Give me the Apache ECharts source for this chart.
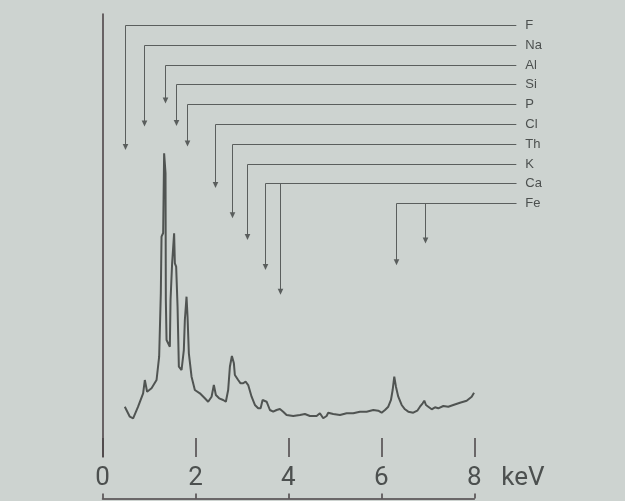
<!DOCTYPE html>
<html>
<head>
<meta charset="utf-8">
<script src="https://cdn.jsdelivr.net/npm/echarts@6/dist/echarts.min.js"></script>
<style>
  html, body { margin: 0; padding: 0; background: #cdd3d0; }
  #main { width: 625px; height: 501px; }
</style>
</head>
<body>
<div id="main"></div>
<script>
// EDX spectrum, x in keV, y relative intensity
var energy = [
  0.480, 0.588, 0.659, 0.766, 0.874, 0.911, 0.960, 1.055, 1.163, 1.219,
  1.255, 1.270, 1.305, 1.326, 1.356, 1.363, 1.378, 1.449, 1.464, 1.498,
  1.541, 1.557, 1.585, 1.615, 1.643, 1.701, 1.750, 1.772, 1.808, 1.830,
  1.858, 1.916, 1.987, 2.095, 2.202, 2.273, 2.347, 2.396, 2.439, 2.510,
  2.596, 2.654, 2.704, 2.741, 2.784, 2.827, 2.848, 2.919, 2.971, 3.027,
  3.079, 3.135, 3.208, 3.279, 3.350, 3.402, 3.445, 3.531, 3.602, 3.673,
  3.746, 3.817, 3.888, 3.961, 4.103, 4.248, 4.355, 4.463, 4.607, 4.678,
  4.749, 4.822, 4.857, 4.965, 5.109, 5.253, 5.395, 5.539, 5.684, 5.826,
  5.933, 6.006, 6.078, 6.149, 6.207, 6.243, 6.278, 6.314, 6.364, 6.437,
  6.508, 6.579, 6.687, 6.773, 6.831, 6.889, 6.924, 6.960, 7.010, 7.083,
  7.154, 7.225, 7.333, 7.440, 7.548, 7.692, 7.836, 7.944, 7.994
];
var counts = [
  11.35, 9.10, 8.74, 11.35, 14.38, 17.38, 14.74, 15.51, 17.38, 22.64,
  37.02, 49.73, 50.56, 68.56, 64.11, 35.44, 26.41, 24.90, 35.44, 43.72,
  50.50, 43.72, 42.96, 33.93, 20.38, 19.64, 24.15, 30.93, 36.19, 31.67,
  23.41, 18.13, 15.12, 14.38, 13.25, 12.48, 13.61, 16.25, 14.00, 13.25,
  12.87, 12.48, 15.12, 20.38, 22.80, 21.15, 18.51, 17.38, 16.64, 16.64,
  17.00, 16.25, 13.61, 11.74, 10.99, 10.99, 12.87, 12.48, 10.61, 10.23,
  10.61, 10.84, 10.23, 9.48, 9.26, 9.48, 9.71, 9.26, 9.26, 9.86,
  8.74, 9.26, 10.00, 9.71, 9.48, 9.86, 9.86, 10.23, 10.23, 10.61,
  10.45, 10.00, 10.61, 11.35, 12.87, 15.12, 18.13, 15.87, 13.61, 11.74,
  10.77, 10.23, 10.00, 10.45, 11.35, 12.12, 12.71, 11.74, 11.35, 10.77,
  11.22, 10.99, 11.51, 11.35, 11.74, 12.26, 12.71, 13.61, 14.51
];

var tickLabels = ['0', '2', '4', '6', '8'];

// element markers: position of the arrow (keV) and height of its tip
var elements = ['F', 'Na', 'Al', 'Si', 'P', 'Cl', 'Th', 'K', 'Ca', 'Fe'];
var lineEnergy = [0.48, 0.90, 1.34, 1.58, 1.82, 2.41, 2.79, 3.11, 3.49, 6.31];
var arrowTip = [69.3, 74.6, 79.8, 74.7, 70.1, 60.7, 53.9, 49.0, 42.2, 43.3];
// second arrow of Ca and Fe
var extraElement = ['Ca', 'Fe'];
var extraEnergy = [3.82, 6.94];
var extraTip = [36.6, 48.2];

var lineColor = '#5a5e5d';
var textColor = '#4c504f';

var spectrum = energy.map(function (e, i) { return [e, counts[i]]; });

var markers = [];
for (var i = 0; i < elements.length; i++) {
  markers.push({ value: [lineEnergy[i], arrowTip[i], i, 1], name: elements[i] });
}
for (var j = 0; j < extraElement.length; j++) {
  markers.push({ value: [extraEnergy[j], extraTip[j], elements.indexOf(extraElement[j]), 0], name: '' });
}

function renderMarker(params, api) {
  var x = api.value(0);
  var row = api.value(2);
  var tip = api.coord([x, api.value(1)]);
  var px = Math.round(tip[0]) + 0.5;
  var rowY = Math.round(25 + row * 19.8) + 0.5;
  var rightX = api.coord([8, 0])[0] + 42;
  var children = [
    { type: 'line', shape: { x1: px, y1: rowY, x2: px, y2: tip[1] - 5 },
      style: { stroke: lineColor, lineWidth: 1 } },
    { type: 'line', shape: { x1: px, y1: rowY, x2: rightX, y2: rowY },
      style: { stroke: lineColor, lineWidth: 1 } },
    { type: 'polygon', shape: { points: [[px - 2.8, tip[1] - 6], [px + 2.8, tip[1] - 6], [px, tip[1]]] },
      style: { fill: lineColor } }
  ];
  if (api.value(3) === 1) {
    children.push({ type: 'text', x: rightX + 9, y: rowY,
      style: { text: markers[params.dataIndex].name, fill: textColor,
        font: '13px "Liberation Sans"', textVerticalAlign: 'middle', textAlign: 'left' } });
  }
  return { type: 'group', children: children };
}

var chart = echarts.init(document.getElementById('main'), null, { renderer: 'canvas' });
chart.setOption({
  backgroundColor: '#cdd3d0',
  animation: false,
  grid: [
    { left: 102.5, right: 150.7, top: 14, bottom: 44 },
    { left: 102.5, right: 150.7, top: 490, height: 8.5 }
  ],
  xAxis: [
    {
      type: 'value', gridIndex: 0, min: 0, max: 8, interval: 2,
      name: 'keV', nameLocation: 'end', nameGap: 27,
      nameTextStyle: { fontFamily: 'Roboto', fontSize: 26, color: textColor,
        align: 'left', verticalAlign: 'top', lineHeight: 26, padding: [8, 0, 0, 0] },
      axisLine: { show: false },
      axisTick: { show: true, inside: true, length: 19, lineStyle: { color: '#4a4446', width: 1.5 } },
      axisLabel: {
        margin: 8, fontFamily: 'Roboto', fontSize: 26, color: textColor, lineHeight: 26,
        formatter: function (v) { return tickLabels[v / 2]; }
      },
      splitLine: { show: false }
    },
    {
      type: 'value', gridIndex: 1, min: 0, max: 8, interval: 2,
      axisLine: { show: true, lineStyle: { color: '#4a4446', width: 1.5 } },
      axisTick: { show: true, inside: true, length: 5, lineStyle: { color: '#4a4446', width: 1.5 } },
      axisLabel: { show: false },
      splitLine: { show: false }
    }
  ],
  yAxis: [
    {
      type: 'value', gridIndex: 0, min: 0, max: 100,
      axisLine: { show: true, lineStyle: { color: '#463c40', width: 1.5 } },
      axisTick: { show: false }, axisLabel: { show: false }, splitLine: { show: false }
    },
    { type: 'value', gridIndex: 1, min: 0, max: 1, show: false }
  ],
  series: [
    {
      type: 'line', xAxisIndex: 0, yAxisIndex: 0, data: spectrum,
      showSymbol: false, symbol: 'none',
      lineStyle: { color: '#505452', width: 2 }
    },
    {
      type: 'custom', xAxisIndex: 0, yAxisIndex: 0, data: markers,
      renderItem: renderMarker, clip: false, silent: true
    },
    { type: 'line', xAxisIndex: 1, yAxisIndex: 1, data: [] }
  ]
});
</script>
</body>
</html>
